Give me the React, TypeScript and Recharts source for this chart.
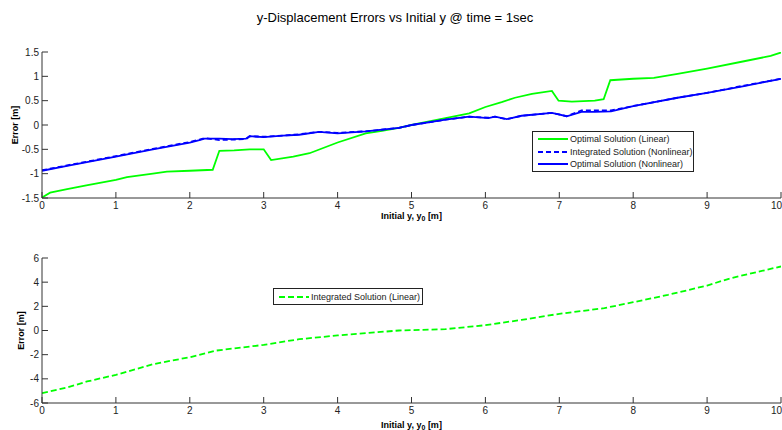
import {LineChart, Line, XAxis, YAxis, Legend} from "recharts";

// top panel: y-displacement error vs y0
const linX = [0, 0.11, 0.34, 0.6, 1, 1.15, 1.5, 1.69, 2, 2.31, 2.4, 2.6, 2.81, 3.0, 3.1, 3.4, 3.62, 4, 4.38, 4.6, 4.83, 5, 5.46, 5.78, 6, 6.22, 6.4, 6.63, 6.9, 6.99, 7.17, 7.48, 7.6, 7.69, 8, 8.28, 8.6, 9, 9.5, 9.86, 10];
const optLin = [-1.49, -1.39, -1.32, -1.24, -1.13, -1.07, -1.0, -0.96, -0.94, -0.92, -0.53, -0.52, -0.5, -0.5, -0.72, -0.65, -0.58, -0.36, -0.17, -0.12, -0.06, 0, 0.14, 0.24, 0.37, 0.47, 0.56, 0.64, 0.7, 0.5, 0.48, 0.5, 0.53, 0.92, 0.95, 0.97, 1.05, 1.16, 1.31, 1.42, 1.49];

const nlX = [0, 0.34, 1, 1.5, 2, 2.13, 2.2, 2.4, 2.58, 2.76, 2.81, 3, 3.26, 3.48, 3.75, 4, 4.38, 4.83, 5, 5.46, 5.78, 6.04, 6.13, 6.29, 6.49, 6.9, 7.1, 7.3, 7.48, 7.7, 8, 8.6, 9, 9.5, 10];
const intNl = [-0.93, -0.83, -0.64, -0.49, -0.35, -0.3, -0.27, -0.31, -0.3, -0.29, -0.23, -0.24, -0.22, -0.19, -0.14, -0.16, -0.13, -0.06, 0, 0.11, 0.17, 0.15, 0.17, 0.12, 0.19, 0.25, 0.18, 0.3, 0.3, 0.3, 0.39, 0.56, 0.66, 0.81, 0.95];
const optNl = [-0.94, -0.84, -0.65, -0.5, -0.36, -0.31, -0.28, -0.28, -0.29, -0.28, -0.23, -0.25, -0.22, -0.2, -0.14, -0.17, -0.13, -0.06, 0, 0.11, 0.17, 0.14, 0.17, 0.12, 0.19, 0.25, 0.18, 0.27, 0.27, 0.28, 0.39, 0.56, 0.66, 0.8, 0.95];

// bottom panel
const intLinX = [0, 0.34, 0.61, 1, 1.5, 2, 2.36, 3, 3.48, 4, 4.38, 4.83, 5, 5.46, 6, 6.49, 7, 7.61, 8, 8.47, 9, 9.32, 10];
const intLin = [-5.19, -4.72, -4.22, -3.67, -2.79, -2.21, -1.66, -1.19, -0.72, -0.41, -0.22, 0, 0.03, 0.11, 0.44, 0.88, 1.38, 1.85, 2.34, 2.95, 3.72, 4.33, 5.3];

const xTicks = [0, 1, 2, 3, 4, 5, 6, 7, 8, 9, 10];
const topYTicks = [-1.5, -1, -0.5, 0, 0.5, 1, 1.5];
const botYTicks = [-6, -4, -2, 0, 2, 4, 6];

const GREEN = "#00ff00";
const BLUE = "#0000ff";
const FONT = "Arial, 'Liberation Sans', Helvetica, sans-serif";
const AXIS = "#333";

const zip = (xs: number[], ys: number[]) => xs.map((x, i) => ({x, y: ys[i]}));

const topSeries = [
  {name: "Optimal Solution (Linear)", data: zip(linX, optLin), color: GREEN, dash: undefined},
  {name: "Integrated Solution (Nonlinear)", data: zip(nlX, intNl), color: BLUE, dash: "5 3"},
  {name: "Optimal Solution (Nonlinear)", data: zip(nlX, optNl), color: BLUE, dash: undefined},
];
const botSeries = [
  {name: "Integrated Solution (Linear)", data: zip(intLinX, intLin), color: GREEN, dash: "6 3"},
];

const TICK = 6;

function BottomTick({x, y, payload}: any) {
  // last label would run off the page edge, keep it inside
  const last = payload.value === xTicks[xTicks.length - 1];
  return (
    <g>
      <line x1={x} x2={x} y1={y} y2={y - TICK} stroke={AXIS} />
      <text
        x={last ? x + 1 : x}
        y={y + 11}
        textAnchor={last ? "end" : "middle"}
        fontSize={10}
        fill="#222"
        fontFamily={FONT}
      >
        {payload.value}
      </text>
    </g>
  );
}
function TopTick({x, y}: any) {
  return <line x1={x} x2={x} y1={y} y2={y + TICK} stroke={AXIS} />;
}
function LeftTick({x, y, payload}: any) {
  return (
    <g>
      <line x1={x} x2={x + TICK} y1={y} y2={y} stroke={AXIS} />
      <text x={x - 3} y={y + 3.5} textAnchor="end" fontSize={10} fill="#222" fontFamily={FONT}>
        {payload.value}
      </text>
    </g>
  );
}
function RightTick({x, y}: any) {
  return <line x1={x} x2={x - TICK} y1={y} y2={y} stroke={AXIS} />;
}

function xLabel(dy: number) {
  return ({viewBox}: any) => (
    <text
      x={viewBox.x + viewBox.width / 2}
      y={viewBox.y + dy}
      textAnchor="middle"
      fontSize={9}
      fontWeight="bold"
      fontFamily={FONT}
      fill="#000"
    >
      Initial y, y
      <tspan fontSize={7} dy={2}>0</tspan>
      <tspan dy={-2}> [m]</tspan>
    </text>
  );
}

function yLabel(cx: number) {
  return ({viewBox}: any) => {
    const cy = viewBox.y + viewBox.height / 2;
    return (
      <text
        x={cx}
        y={cy}
        transform={`rotate(-90 ${cx} ${cy})`}
        textAnchor="middle"
        dominantBaseline="central"
        fontSize={9}
        fontWeight="bold"
        fontFamily={FONT}
        fill="#000"
      >
        Error [m]
      </text>
    );
  };
}

function LegendBox({items}: {items: typeof topSeries}) {
  return (
    <div
      style={{
        border: "1px solid #222",
        background: "#fff",
        boxSizing: "border-box",
        width: "100%",
        height: "100%",
        display: "flex",
        flexDirection: "column",
        justifyContent: "space-evenly",
        padding: "1px 0",
      }}
    >
      {items.map((s) => (
        <div key={s.name} style={{display: "flex", alignItems: "center", height: 12}}>
          <svg width={36} height={6} style={{marginLeft: 4}}>
            <line x1={1} x2={31} y1={3} y2={3} stroke={s.color} strokeWidth={2} strokeDasharray={s.dash} />
          </svg>
          <span style={{fontFamily: FONT, fontSize: 9, color: "#222", whiteSpace: "nowrap", marginLeft: -3}}>
            {s.name}
          </span>
        </div>
      ))}
    </div>
  );
}

function Panel({
  series,
  yTicks,
  yDomain,
  height,
  top,
  marginTop,
  xAxisHeight,
  labelDy,
  yLabelX,
  legendPos,
}: any) {
  return (
    <div style={{position: "absolute", left: 0, top}}>
      <LineChart width={782} height={height} margin={{top: marginTop, right: 1, bottom: 0, left: 0}}>
        <XAxis
          xAxisId="b"
          type="number"
          dataKey="x"
          domain={[0, 10]}
          ticks={xTicks}
          allowDataOverflow
          height={xAxisHeight}
          tickSize={0}
          tickMargin={0}
          tickLine={false}
          axisLine={{stroke: AXIS}}
          tick={<BottomTick />}
          interval={0}
          label={{content: xLabel(labelDy)}}
        />
        <XAxis
          xAxisId="t"
          orientation="top"
          type="number"
          dataKey="x"
          domain={[0, 10]}
          ticks={xTicks}
          allowDataOverflow
          height={0}
          tickSize={0}
          tickMargin={0}
          tickLine={false}
          axisLine={{stroke: AXIS}}
          tick={<TopTick />}
          interval={0}
        />
        <YAxis
          yAxisId="l"
          type="number"
          domain={yDomain}
          ticks={yTicks}
          allowDataOverflow
          width={42}
          tickSize={0}
          tickMargin={0}
          tickLine={false}
          axisLine={{stroke: AXIS}}
          tick={<LeftTick />}
          interval={0}
          label={{content: yLabel(yLabelX)}}
        />
        <YAxis
          yAxisId="r"
          orientation="right"
          type="number"
          domain={yDomain}
          ticks={yTicks}
          allowDataOverflow
          width={0}
          tickSize={0}
          tickMargin={0}
          tickLine={false}
          axisLine={{stroke: AXIS}}
          tick={<RightTick />}
          interval={0}
        />
        {series.map((s: any) => (
          <Line
            key={s.name}
            xAxisId="b"
            yAxisId="l"
            data={s.data}
            dataKey="y"
            name={s.name}
            type="linear"
            stroke={s.color}
            strokeWidth={1.8}
            strokeDasharray={s.dash}
            dot={false}
            activeDot={false}
            isAnimationActive={false}
          />
        ))}
        <Legend
          layout="horizontal"
          verticalAlign="middle"
          align="center"
          wrapperStyle={legendPos}
          content={() => <LegendBox items={series} />}
        />
      </LineChart>
    </div>
  );
}

export default function App() {
  return (
    <div style={{position: "absolute", left: 0, top: 0, width: 782, height: 430, background: "#fff"}}>
      <div
        style={{
          position: "absolute",
          left: 0,
          top: 10,
          width: 790,
          textAlign: "center",
          fontFamily: FONT,
          fontSize: 13,
          lineHeight: "16px",
          color: "#000",
        }}
      >
        y-Displacement Errors vs Initial y @ time = 1sec
      </div>
      <Panel
        series={topSeries}
        yTicks={topYTicks}
        yDomain={[-1.5, 1.5]}
        height={232}
        top={0}
        marginTop={52}
        xAxisHeight={34}
        labelDy={21}
        yLabelX={14.5}
        legendPos={{left: 532, top: 131, width: 162, height: 41}}
      />
      <Panel
        series={botSeries}
        yTicks={botYTicks}
        yDomain={[-6, 6]}
        height={198}
        top={232}
        marginTop={26}
        xAxisHeight={27}
        labelDy={25}
        yLabelX={20.5}
        legendPos={{left: 273, top: 56, width: 150, height: 17}}
      />
    </div>
  );
}
